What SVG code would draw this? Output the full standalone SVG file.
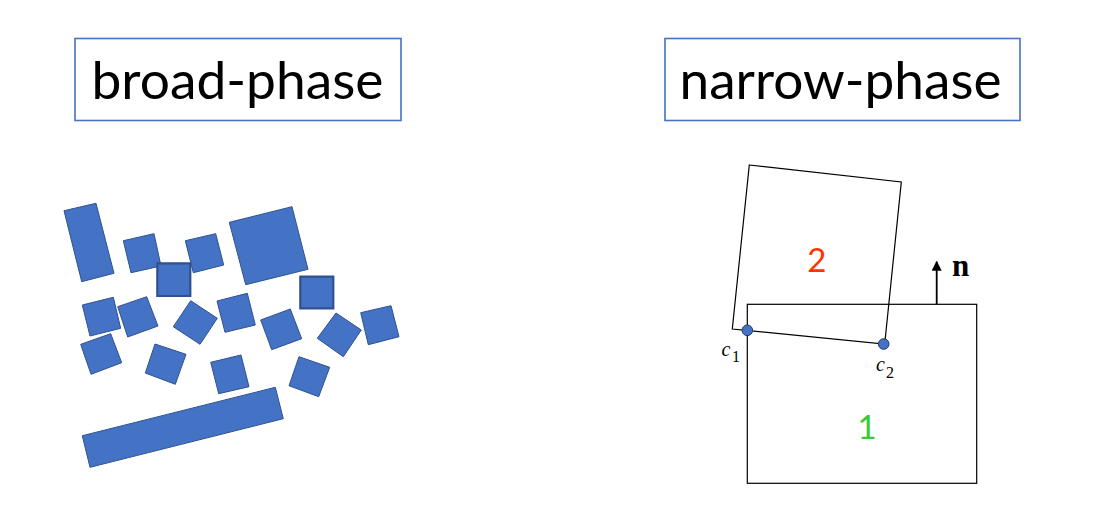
<svg xmlns="http://www.w3.org/2000/svg" width="1101" height="516" viewBox="0 0 1101 516">
<style>
.title{fill:#fff;stroke:#4472C4;stroke-width:1.6}
.tt{font-family:Lato,"Open Sans","Liberation Sans",sans-serif;font-size:53px;fill:#000}
.blk{fill:#4472C4;stroke:#2F528F;stroke-width:1}
.blk2{fill:#4472C4;stroke:#2F528F;stroke-width:2.2}
.body{fill:none;stroke:#000;stroke-width:1.2}
.pt{fill:#4472C4;stroke:#1F3864;stroke-width:1}
.lab{font-family:"Liberation Serif",serif;font-style:italic;font-size:20px;fill:#000}
.sub{font-family:"Liberation Serif",serif;font-size:16px;fill:#000}
.num{font-family:Lato,"Open Sans","Liberation Sans",sans-serif;font-size:33px}
</style>
<defs>
<marker id="ah" viewBox="0 0 10 10" refX="9" refY="5" markerWidth="10" markerHeight="10" markerUnits="userSpaceOnUse" orient="auto">
<path d="M0,0 L10,5 L0,10 z" fill="#000"/>
</marker>
</defs>
<rect width="1101" height="516" fill="#fff"/>

<g id="broad-title">
<rect class="title" x="75" y="38.5" width="326" height="82"/>
<text class="tt" x="91.5" y="98.5" textLength="292" lengthAdjust="spacingAndGlyphs">broad-phase</text>
</g>
<g id="narrow-title">
<rect class="title" x="665" y="38.5" width="355" height="82"/>
<text class="tt" x="679.5" y="98.5" textLength="322" lengthAdjust="spacingAndGlyphs">narrow-phase</text>
</g>

<g id="broad-shapes">
<polygon class="blk" points="64,210.7 96,203.3 114,273.3 81.7,281.7"/>
<polygon class="blk" points="123.3,240.7 154,233.7 161,266 131,272.7"/>
<polygon class="blk" points="185.3,240.7 215.7,233.7 223.7,265 193.3,272.7"/>
<polygon class="blk2" points="157.3,263.3 190.3,263.3 190.3,296 157.3,296"/>
<polygon class="blk" points="229.3,222.3 292,206.7 308,269.3 245.7,284.7"/>
<polygon class="blk2" points="300.3,276.7 333.3,276.7 333.3,308.3 300.3,308.3"/>
<polygon class="blk" points="82.3,305 113.3,297.3 120.7,328.3 90,336"/>
<polygon class="blk" points="117.7,306.7 146.7,296.7 158,326 127.7,337"/>
<polygon class="blk" points="173.3,326.7 190.7,300.7 217.3,318.3 200,344.3"/>
<polygon class="blk" points="217,301 247.3,293.3 255.3,325 225,332.3"/>
<polygon class="blk" points="260.7,320 290.3,309 301.7,338.7 271.7,349.7"/>
<polygon class="blk" points="317.3,338.3 336,313 361.3,330 343.3,356.7"/>
<polygon class="blk" points="360.7,312.7 391,305.7 399,336.7 368.3,344.7"/>
<polygon class="blk" points="80.7,344.3 110.7,333.7 121.7,362.7 91,374.3"/>
<polygon class="blk" points="155,344 186,354.3 175.3,384.3 145.3,373"/>
<polygon class="blk" points="210.7,362.3 241,355 249,386.7 218.7,393.7"/>
<polygon class="blk" points="299,356.7 329.7,367.3 318.7,396.7 289,385.7"/>
<polygon class="blk" points="82.3,435.7 275.3,387.3 283.3,418.7 90,467.3"/>
</g>

<g id="body1">
<rect class="body" x="747.3" y="304.3" width="229.4" height="179"/>
<text class="num" x="867" y="439" fill="#33CC33" text-anchor="middle">1</text>
</g>
<g id="body2">
<polygon class="body" points="749.3,165 901.3,182 884.7,344 732.3,329"/>
<text class="num" x="816.7" y="272" fill="#FF3300" text-anchor="middle">2</text>
</g>

<g id="connectors">
<line x1="936.7" y1="304.3" x2="936.7" y2="261.7" stroke="#000" stroke-width="1.8" marker-end="url(#ah)"/>
</g>

<g id="normal-label">
<text x="952" y="276" font-family="'Liberation Serif',serif" font-weight="bold" font-size="31" fill="#000">n</text>
</g>

<g id="c1">
<circle class="pt" cx="747.3" cy="330.3" r="5.3"/>
<text class="lab" x="721.5" y="356">c</text><text class="sub" x="732" y="362">1</text>
</g>
<g id="c2">
<circle class="pt" cx="883.7" cy="344" r="5.3"/>
<text class="lab" x="876" y="371">c</text><text class="sub" x="886" y="377.5">2</text>
</g>
</svg>
